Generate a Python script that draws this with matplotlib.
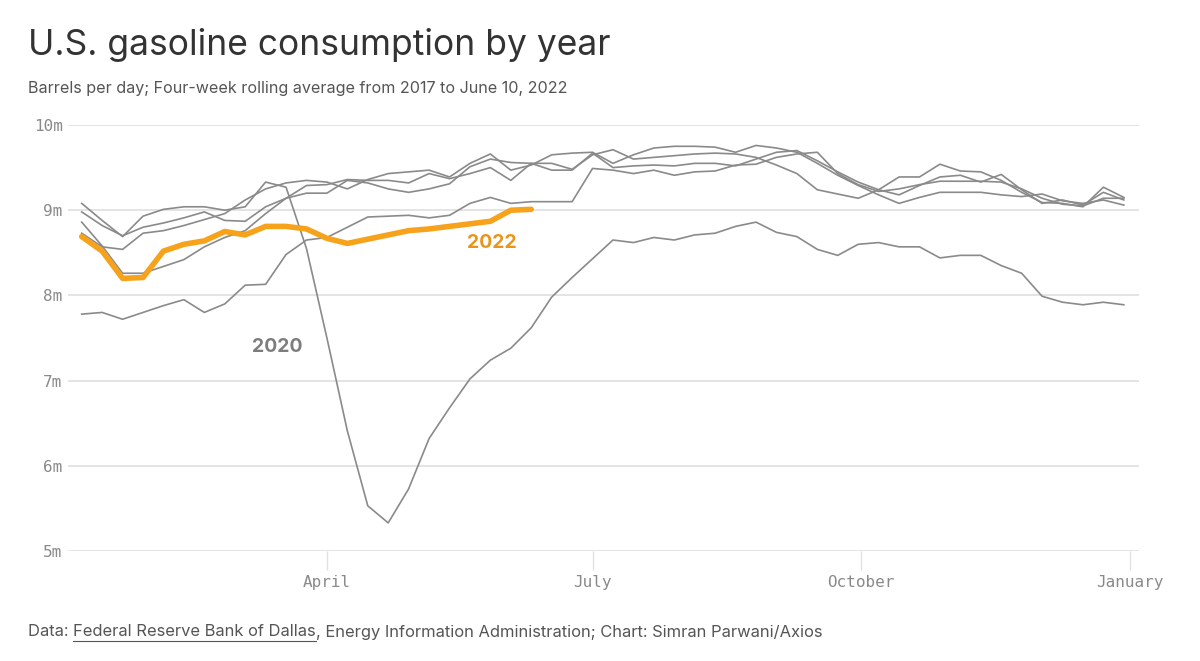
import matplotlib.pyplot as plt
import numpy as np

# weekly points, day of year of each week (first week ends ~Jan 7)
weeks = np.arange(52)
days = 6 + 7 * weeks

# barrels per day, millions
y2017 = [8.73, 8.57, 8.54, 8.73, 8.76, 8.82, 8.89, 8.96, 9.12, 9.25, 9.32,
         9.35, 9.33, 9.25, 9.36, 9.43, 9.45, 9.47, 9.39, 9.55, 9.66, 9.47,
         9.53, 9.65, 9.67, 9.68, 9.55, 9.65, 9.73, 9.75, 9.75, 9.74, 9.68,
         9.76, 9.73, 9.68, 9.55, 9.41, 9.29, 9.18, 9.08, 9.15, 9.21, 9.21,
         9.21, 9.18, 9.16, 9.19, 9.11, 9.08, 9.12, 9.06]
y2018 = [8.86, 8.58, 8.26, 8.26, 8.34, 8.42, 8.57, 8.68, 8.76, 8.96, 9.14,
         9.29, 9.30, 9.36, 9.35, 9.35, 9.32, 9.43, 9.37, 9.43, 9.50, 9.35,
         9.55, 9.55, 9.48, 9.65, 9.71, 9.60, 9.62, 9.64, 9.66, 9.67, 9.66,
         9.62, 9.53, 9.43, 9.24, 9.19, 9.14, 9.24, 9.39, 9.39, 9.54, 9.46,
         9.45, 9.35, 9.21, 9.09, 9.08, 9.04, 9.27, 9.15]
y2019 = [8.98, 8.82, 8.70, 8.80, 8.85, 8.91, 8.98, 8.88, 8.87, 9.04, 9.14,
         9.20, 9.20, 9.35, 9.32, 9.25, 9.21, 9.25, 9.31, 9.51, 9.60, 9.56,
         9.55, 9.47, 9.47, 9.67, 9.50, 9.52, 9.53, 9.52, 9.55, 9.55, 9.52,
         9.60, 9.68, 9.70, 9.58, 9.45, 9.33, 9.24, 9.18, 9.29, 9.39, 9.41,
         9.33, 9.42, 9.24, 9.08, 9.12, 9.06, 9.21, 9.12]
y2020 = [9.08, 8.88, 8.69, 8.93, 9.01, 9.04, 9.04, 9.00, 9.04, 9.33, 9.27,
         8.55, 7.50, 6.41, 5.53, 5.33, 5.73, 6.32, 6.68, 7.02, 7.24, 7.38,
         7.62, 7.98, 8.21, 8.43, 8.65, 8.62, 8.68, 8.65, 8.71, 8.73, 8.81,
         8.86, 8.74, 8.69, 8.54, 8.47, 8.60, 8.62, 8.57, 8.57, 8.44, 8.47,
         8.47, 8.35, 8.26, 7.99, 7.92, 7.89, 7.92, 7.89]
y2021 = [7.78, 7.80, 7.72, 7.80, 7.88, 7.95, 7.80, 7.90, 8.12, 8.13, 8.48,
         8.65, 8.68, 8.80, 8.92, 8.93, 8.94, 8.91, 8.94, 9.08, 9.15, 9.08,
         9.10, 9.10, 9.10, 9.49, 9.47, 9.43, 9.47, 9.41, 9.45, 9.46, 9.53,
         9.54, 9.62, 9.66, 9.68, 9.43, 9.30, 9.22, 9.25, 9.30, 9.34, 9.34,
         9.34, 9.33, 9.25, 9.14, 9.07, 9.05, 9.14, 9.14]
y2022 = [8.69, 8.52, 8.20, 8.21, 8.52, 8.60, 8.64, 8.75, 8.71, 8.81, 8.81,
         8.78, 8.67, 8.61, 8.66, 8.71, 8.76, 8.78, 8.81, 8.84, 8.87, 9.00, 9.01]

gray_years = [y2017, y2018, y2019, y2020, y2021]

ytick_vals = [5, 6, 7, 8, 9, 10]
ytick_labels = ['5m', '6m', '7m', '8m', '9m', '10m']
xtick_days = [90, 181, 273, 365]
xtick_labels = ['April', 'July', 'October', 'January']

plt.rcParams['font.family'] = ['Inter', 'DejaVu Sans']

fig = plt.figure(figsize=(12, 6.61), dpi=100)
ax = fig.add_axes([68 / 1200, 110 / 661, (1139 - 68) / 1200, (551 - 125) / 661])

for ys in gray_years:
    ax.plot(days[:len(ys)], ys, color='#8a8a8a', lw=1.2, zorder=3)
ax.plot(days[:len(y2022)], y2022, color='#f7a21b', lw=4, zorder=4,
        solid_capstyle='round', solid_joinstyle='round')

ax.text(72.9, 7.39, '2020', color='#7d7d7d', fontsize=14, fontweight='bold',
        ha='center', va='center')
ax.text(146.5, 8.61, '2022', color='#e8961a', fontsize=14, fontweight='bold',
        ha='center', va='center')

ax.set_xlim(1.3, 368.2)
ax.set_ylim(5, 10)
ax.set_yticks(ytick_vals)
ax.set_yticklabels(ytick_labels)
ax.set_xticks(xtick_days)
ax.set_xticklabels(xtick_labels)
for lab in ax.get_xticklabels() + ax.get_yticklabels():
    lab.set_family('DejaVu Sans Mono')
    lab.set_color('#8a8a8a')
    lab.set_fontsize(11.5)

ax.grid(axis='y', color='#e2e2e2', lw=1.3, zorder=0)
ax.tick_params(axis='y', length=0, pad=4)
ax.tick_params(axis='x', length=14, color='#e2e2e2', width=1, pad=3)
for s in ax.spines.values():
    s.set_visible(False)
ax.set_facecolor('white')

fig.text(28 / 1200, 1 - 45 / 661, 'U.S. gasoline consumption by year',
         fontsize=25.5, color='#333333', va='center')
fig.text(28 / 1200, 1 - 89 / 661,
         'Barrels per day; Four-week rolling average from 2017 to June 10, 2022',
         fontsize=11.6, color='#555555', va='center')

fs_foot = 11.9
foot = fig.text(28 / 1200, 1 - 632 / 661, 'Data: ', fontsize=fs_foot,
                color='#555555', va='center')
fig.canvas.draw()
bb = foot.get_window_extent()
link = fig.text(bb.x1 / 1200, 1 - 632 / 661, 'Federal Reserve Bank of Dallas',
                fontsize=fs_foot, color='#555555', va='center')
fig.canvas.draw()
lb = link.get_window_extent()
fig.add_artist(plt.Line2D([lb.x0 / 1200, lb.x1 / 1200],
                          [(lb.y0 - 1) / 661, (lb.y0 - 1) / 661],
                          color='#555555', lw=0.8))
fig.text(lb.x1 / 1200, 1 - 632 / 661,
         ', Energy Information Administration; Chart: Simran Parwani/Axios',
         fontsize=fs_foot, color='#555555', va='center')

fig.savefig('out.png', dpi=100, facecolor='white')
